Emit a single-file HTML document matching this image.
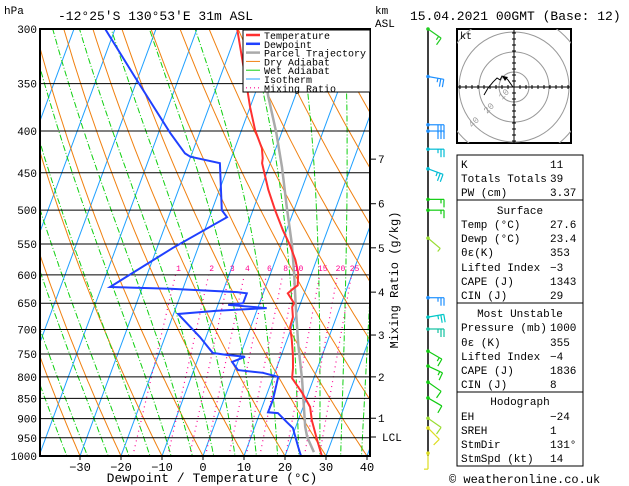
<!DOCTYPE html>
<html><head><meta charset="utf-8">
<style>
body{margin:0;background:#fff;}
svg{display:block;font-family:"Liberation Mono","DejaVu Sans Mono",monospace;}
text{fill:#000;}
</style></head>
<body>
<svg id="chart" width="629" height="486" viewBox="0 0 629 486" xmlns="http://www.w3.org/2000/svg">
<defs><clipPath id="plotclip"><rect x="40" y="29" width="330" height="427"/></clipPath>
<clipPath id="hodoclip"><rect x="457" y="29" width="114" height="114"/></clipPath></defs>
<g id="bg" clip-path="url(#plotclip)"></g>
<g id="series" clip-path="url(#plotclip)"></g>
<g id="axes"></g>
<text x="4" y="14" font-size="11">hPa</text>
<text x="58" y="20" font-size="13">-12°25'S 130°53'E 31m ASL</text>
<text x="375" y="14" font-size="11">km</text>
<text x="375" y="27" font-size="11">ASL</text>
<text x="410" y="20" font-size="13">15.04.2021 00GMT (Base: 12)</text>
<text x="212" y="482" font-size="13" text-anchor="middle">Dewpoint / Temperature (°C)</text>
<text transform="translate(398,280) rotate(-90)" font-size="12" text-anchor="middle">Mixing Ratio (g/kg)</text>
<g id="legend"></g>
<g id="winds"></g>
<g id="hodo"></g>
<g id="table"></g>
<text x="449" y="483" font-size="12">© weatheronline.co.uk</text>
</svg>
<script>
const pTemp=[1000,956,904,871,837,803,780,752,721,695,676,657,650,632,624,618,597,575,552,529,500,472,438,432,420,399,374,361,300];
const tTemp=[29.0,26.4,23.3,21.7,18.5,14.7,14.0,12.8,11.2,9.6,9.4,8.3,8.4,6.0,6.9,7.7,6.7,4.8,2.2,-0.9,-4.6,-8.1,-12.0,-12.3,-13.4,-16.7,-20.0,-21.6,-30.2];
const pDew=[1000,975,924,909,886,884,854,800,791,785,767,756,752,748,715,670,664,659,653,650,632,630,624,621,556,510,500,438,430,426,402,344,300];
const tDew=[23.9,22.4,19.4,17.4,14.4,11.9,12.0,11.2,7.1,0.8,-1.4,1.3,-3.3,-6.9,-11.5,-18.9,-9.7,2.2,-7.5,-4.0,-4.0,-6.5,-23.1,-37.9,-26.1,-15.7,-17.6,-22.3,-30.1,-31.7,-37.2,-50.7,-62.4];
const pPar=[989,948,921,807,727,657,597,552,496,443,402,363,330];
const tPar=[26.7,23.7,22.3,17.3,13.0,9.2,5.7,2.7,-2.0,-6.8,-11.3,-16.5,-21.0];
const pLevels=[300,350,400,450,500,550,600,650,700,750,800,850,900,950,1000];
const tTicks=[-30,-20,-10,0,10,20,30,40];
const mixRatios=[1,2,3,4,6,8,10,15,20,25];
const kmLabels=["7","6","5","4","3","2","1"];
const kmPress=[433,491,556,630,711,800,899];
const hodoU=[-0.7,-4,-6,-8,-9.3,-11.3,-14,-17.3,-20];
const hodoV=[0,4.7,6.7,7.3,4.7,6,3.3,-0.7,-5.3];
const windP=[300,343,393,400,421,445,485,500,541,640,676,699,744,776,812,849,899,924,992];
const windDir=[125,100,90,90,90,110,90,90,130,90,80,90,120,115,125,120,125,135,180];
const windSpd=[15,25,30,30,25,25,15,15,5,25,25,25,15,15,10,10,10,10,5];
const windCol=["#22cc22","#1e90ff","#1e90ff","#1e90ff","#00bcd4","#00bcd4","#11cc11","#11cc11","#99dd33","#1e90ff","#00c8c8","#10c0a0","#11cc11","#11cc11","#11cc11","#11cc11","#99dd33","#dddd22","#dddd22"];

const NS="http://www.w3.org/2000/svg";
function yP(p){return 29+Math.log(p/300)/Math.log(10/3)*427;}
function xT(t,p){return 203+4.1*t+0.37*(456-yP(p));}
function mk(tag,attrs,parent){const e=document.createElementNS(NS,tag);for(const k in attrs)e.setAttribute(k,attrs[k]);parent.appendChild(e);return e;}
function pathFrom(ps,ts){return ps.map((p,i)=>(i?'L':'M')+xT(ts[i],p).toFixed(1)+','+yP(p).toFixed(1)).join('');}
const bg=document.getElementById('bg'),ser=document.getElementById('series'),ax=document.getElementById('axes');
for(let t=-110;t<=50;t+=10){const l=mk('line',{x1:xT(t,1050),y1:yP(1050),x2:xT(t,250),y2:yP(250),stroke:'#1ea0ff','stroke-width':1},bg);

}
for(let th=-60;th<=130;th+=10){let d='';for(let p=1050;p>=280;p-=10){const T=(th+273.15)*Math.pow(p/1000,0.286)-273.15;d+=(d?'L':'M')+xT(T,p).toFixed(1)+','+yP(p).toFixed(1);}
const e=mk('path',{d:d,fill:'none',stroke:'#f08010','stroke-width':1},bg);

}
function es(T){return 6.112*Math.exp(17.67*T/(T+243.5));}
for(let t0=-30;t0<=45;t0+=5){let T=t0+273.15,d='';for(let p=1050;p>=280;p-=5){const tc=T-273.15;d+=(d?'L':'M')+xT(tc,p).toFixed(1)+','+yP(p).toFixed(1);
const e=es(tc),rs=0.622*e/(p-e),Lv=2.5e6,Rd=287,cp=1004;const dTdp=(Rd*T+Lv*rs)/(p*(cp+Lv*Lv*rs*0.622/(Rd*T*T)));T-=dTdp*5;}
const e=mk('path',{d:d,fill:'none',stroke:'#10d010','stroke-width':1,'stroke-dasharray':'6,2,1,2'},bg);

}
mixRatios.forEach(w=>{function td(p){const e=w*p/(622+w),a=Math.log(e/6.112);return 243.5*a/(17.67-a);}
const l=mk('line',{x1:xT(td(1000),1000),y1:yP(1000),x2:xT(td(600),600),y2:yP(600),stroke:'#ff0090','stroke-width':1.2,'stroke-dasharray':'1,4'},bg);


const tx=mk('text',{x:xT(td(600),600)+3,y:yP(600)-4,'font-size':8,'text-anchor':'middle',style:'fill:#ff0090'},ax);tx.textContent=w;

});
pLevels.forEach(p=>{const l=mk('line',{x1:40,x2:370,y1:yP(p),y2:yP(p),stroke:'#000','stroke-width':1},ser);


const t=mk('text',{x:37,y:yP(p)+4,'font-size':11,'text-anchor':'end'},ax);t.textContent=p;

});
const sp=mk('path',{d:pathFrom(pPar,tPar),fill:'none',stroke:'#aaa','stroke-width':2.5},ser);


const sd=mk('path',{d:pathFrom(pDew,tDew),fill:'none',stroke:'#2040ff','stroke-width':2},ser);


const st=mk('path',{d:pathFrom(pTemp,tTemp),fill:'none',stroke:'#ff3030','stroke-width':2},ser);


const fr=mk('rect',{x:40,y:29,width:330,height:427,fill:'none',stroke:'#000','stroke-width':2},ax);


tTicks.forEach(t=>{const x=xT(t,1000);const l=mk('line',{x1:x,x2:x,y1:456,y2:460,stroke:'#000'},ax);


const tx=mk('text',{x:x,y:471,'font-size':12,'text-anchor':'middle'},ax);tx.textContent=(t<0?'\u2212'+(-t):t);

});
kmLabels.forEach((k,i)=>{const y=yP(kmPress[i]);const l=mk('line',{x1:370,x2:376,y1:y,y2:y,stroke:'#000'},ax);


const tx=mk('text',{x:378,y:y+4,'font-size':11},ax);tx.textContent=k;

});
{const y=437;const l=mk('line',{x1:370,x2:376,y1:y,y2:y,stroke:'#000'},ax);


const tx=mk('text',{x:382,y:y+4,'font-size':11},ax);tx.textContent='LCL';

}
const lg=document.getElementById('legend');
const lb=mk('rect',{x:243,y:30,width:127,height:62,fill:'#fff',stroke:'#000','stroke-width':1},lg);


const legNames=['Temperature','Dewpoint','Parcel Trajectory','Dry Adiabat','Wet Adiabat','Isotherm','Mixing Ratio'];
const legCols=['#ff3030','#2040ff','#aaa','#f08010','#10d010','#1ea0ff','#ff0090'];
const legW=[2.5,2.5,2.5,1,1,1,1.2];
legNames.forEach((n,i)=>{const y=35+i*8.8;const l=mk('line',{x1:246,x2:260,y1:y,y2:y,stroke:legCols[i],'stroke-width':legW[i]},lg);
if(i==6)l.setAttribute('stroke-dasharray','1,3');


const t=mk('text',{x:264,y:y+4,'font-size':10},lg);t.textContent=n;

});
const wg=document.getElementById('winds');
const vl=mk('line',{x1:428,x2:428,y1:29,y2:456,stroke:'#000','stroke-width':1.5},wg);


windP.forEach((p,i)=>{const y=Math.min(455,yP(p));const c=windCol[i];const a=(windDir[i]-90)*Math.PI/180;
const L=16,x2=428+L*Math.cos(a),y2=y+L*Math.sin(a);
const g=mk('g',{},wg);


mk('circle',{cx:428,cy:y,r:1.8,fill:c},g);
mk('line',{x1:428,y1:y,x2:x2,y2:y2,stroke:c,'stroke-width':1.2},g);
let n=Math.round(windSpd[i]/10*2)/2;let k=0;
while(n>0){const f=n>=1?8:4;const bx=x2-k*3*Math.cos(a),by=y2-k*3*Math.sin(a);const b=a+Math.PI/2;
mk('line',{x1:bx,y1:by,x2:bx+f*Math.cos(b),y2:by+f*Math.sin(b),stroke:c,'stroke-width':1.2},g);n-=1;k++;}
});
const hg=document.getElementById('hodo');const hx=514,hy=87,hs=1.5;
const hr=mk('rect',{x:457,y:29,width:114,height:114,fill:'#fff',stroke:'#000','stroke-width':2},hg);


const hc=mk('g',{'clip-path':'url(#hodoclip)'},hg);
[15,35,55,72].forEach(r=>{const c=mk('circle',{cx:hx,cy:hy,r:r,fill:'none',stroke:'#999'},hc);

});
mk('line',{x1:457,x2:571,y1:hy,y2:hy,stroke:'#000'},hc);mk('line',{x1:hx,x2:hx,y1:29,y2:143,stroke:'#000'},hc);
for(let d=-54;d<=54;d+=6){mk('line',{x1:hx+d,x2:hx+d,y1:hy-2,y2:hy+2,stroke:'#000'},hc);mk('line',{x1:hx-2,x2:hx+2,y1:hy+d,y2:hy+d,stroke:'#000'},hc);}
[['10',502,100],['20',487,114],['40',472,128]].forEach(a=>{const t=mk('text',{x:a[1],y:a[2],'font-size':9,transform:`rotate(-45 ${a[1]} ${a[2]})`,style:'fill:#999'},hc);t.textContent=a[0];

});
const hp=mk('path',{d:hodoU.map((u,i)=>(i?'L':'M')+(hx+u*hs)+','+(hy-hodoV[i]*hs)).join(''),fill:'none',stroke:'#000','stroke-width':1},hc);


const kt=mk('text',{x:460,y:39,'font-size':10},hg);kt.textContent='kt';


mk('path',{d:`M${hx-12},${hy-11}l6,1l-3,4z`,fill:'#000'},hc);
const tb=document.getElementById('table');
[[155,200],[200,303],[303,392],[392,466]].forEach(s=>{const r=mk('rect',{x:457,y:s[0],width:126,height:s[1]-s[0],fill:'none',stroke:'#000','stroke-width':1},tb);

});
const rows=[[164,'K','11'],[178,'Totals Totals','39'],[192,'PW (cm)','3.37'],[210,'  Surface',''],[224,'Temp (°C)','27.6'],[238,'Dewp (°C)','23.4'],[252,'θε(K)','353'],[267,'Lifted Index','\u22123'],[281,'CAPE (J)','1343'],[295,'CIN (J)','29'],
[313,' Most Unstable',''],[327,'Pressure (mb)','1000'],[342,'θε (K)','355'],[356,'Lifted Index','\u22124'],[370,'CAPE (J)','1836'],[384,'CIN (J)','8'],[401,'  Hodograph',''],[416,'EH','\u221224'],[430,'SREH','1'],[444,'StmDir','131°'],[458,'StmSpd (kt)','14']];
rows.forEach(r=>{const t=mk('text',{x:r[2]===''?520:461,y:r[0]+4,'font-size':11,'text-anchor':r[2]===''?'middle':'start'},tb);t.textContent=r[1].trim();


if(r[2]!==''){const v=mk('text',{x:550,y:r[0]+4,'font-size':11},tb);v.textContent=r[2];

}});
</script>
</body></html>
